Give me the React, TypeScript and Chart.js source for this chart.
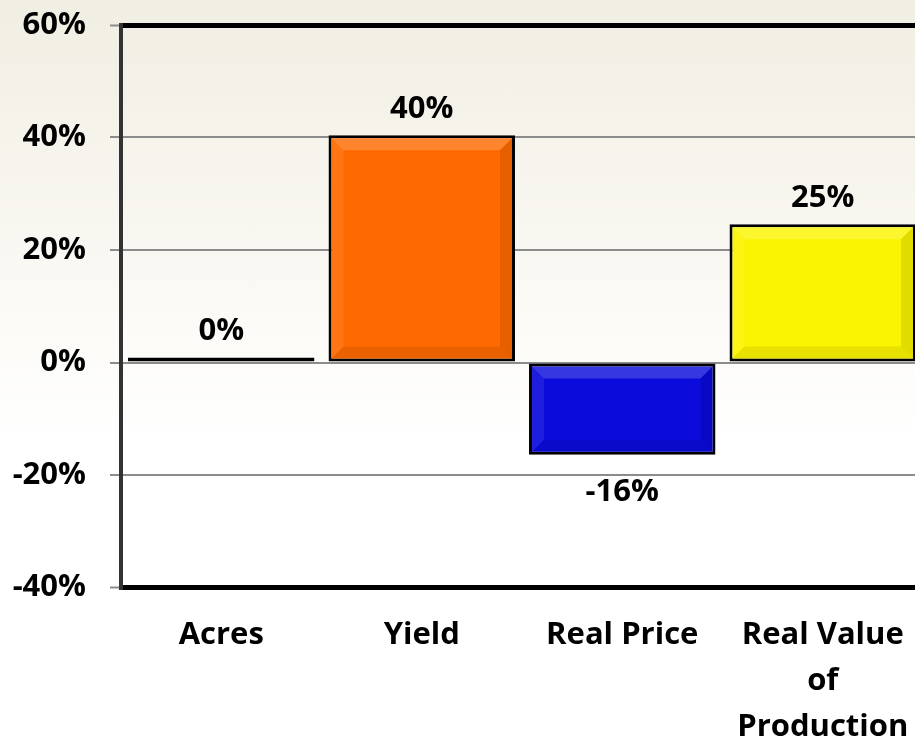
import React, { useEffect, useRef } from "react";
import { Chart, registerables } from "chart.js";

Chart.register(...registerables);

const categories: (string | string[])[] = ["Acres", "Yield", "Real Price", ["Real Value", "of", "Production"]];
const changeValues: number[] = [0.4, 40.4, -16.4, 24.6];
const barColors: string[] = ["#1a1a1a", "#ff6a00", "#0b0bdc", "#fbf400"];
const yTicks: number[] = [-40, -20, 0, 20, 40, 60];

const FONT = "'Open Sans', 'DejaVu Sans', sans-serif";

const bevelPlugin = {
  id: "bevel",
  afterDatasetsDraw(chart: any) {
    const { ctx } = chart;
    const meta = chart.getDatasetMeta(0);
    ctx.save();
    meta.data.forEach((bar: any) => {
      const top = Math.min(bar.y, bar.base) + 3;
      const bottom = Math.max(bar.y, bar.base) - 3;
      const left = bar.x - bar.width / 2 + 3;
      const right = bar.x + bar.width / 2 - 3;
      if (bottom - top < 20) return;
      const b = 12;
      const poly = (pts: number[][], color: string) => {
        ctx.beginPath();
        ctx.moveTo(pts[0][0], pts[0][1]);
        for (let k = 1; k < pts.length; k++) ctx.lineTo(pts[k][0], pts[k][1]);
        ctx.closePath();
        ctx.fillStyle = color;
        ctx.fill();
      };
      poly([[left, top], [right, top], [right - b, top + b], [left + b, top + b]], "rgba(255,255,255,0.18)");
      poly([[left, top], [left + b, top + b], [left + b, bottom - b], [left, bottom]], "rgba(255,255,255,0.08)");
      poly([[left, bottom], [left + b, bottom - b], [right - b, bottom - b], [right, bottom]], "rgba(0,0,0,0.08)");
      poly([[right, top], [right, bottom], [right - b, bottom - b], [right - b, top + b]], "rgba(0,0,0,0.10)");
    });
    ctx.restore();
  },
};

const valueLabelPlugin = {
  id: "valueLabels",
  afterDatasetsDraw(chart: any) {
    const { ctx } = chart;
    const meta = chart.getDatasetMeta(0);
    ctx.save();
    ctx.font = `bold 31px ${FONT}`;
    ctx.fillStyle = "#000";
    ctx.textAlign = "center";
    ctx.textBaseline = "middle";
    meta.data.forEach((bar: any, i: number) => {
      const v = changeValues[i];
      const txt = `${Math.round(v)}%`;
      const y = v >= 0 ? bar.y - 26 : bar.y + 37;
      ctx.fillText(txt, bar.x, y);
    });
    ctx.restore();
  },
};

export default function App() {
  const ref = useRef<HTMLCanvasElement>(null);
  useEffect(() => {
    if (!ref.current) return;
    const chart = new Chart(ref.current, {
      type: "bar",
      data: {
        labels: categories as any,
        datasets: [
          {
            data: changeValues,
            backgroundColor: barColors,
            borderColor: "#000",
            borderWidth: 3,
            borderSkipped: false,
            minBarLength: 5,
            categoryPercentage: 1,
            barPercentage: 0.93,
          },
        ],
      },
      options: {
        responsive: false,
        animation: false,
        layout: { padding: { top: 25, right: 2, left: 0, bottom: 0 } },
        plugins: { legend: { display: false }, tooltip: { enabled: false } },
        scales: {
          x: {
            grid: { display: false, drawTicks: false },
            border: { display: true, color: "#000", width: 5 },
            ticks: {
              color: "#000",
              padding: 25,
              maxRotation: 0,
              autoSkip: false,
              font: { family: FONT, size: 31, weight: "bold", lineHeight: 1.48 },
            },
            afterFit(scale: any) {
              scale.height = 151.5;
              scale.paddingLeft = 0;
              scale.paddingRight = 0;
            },
          },
          y: {
            min: -40,
            max: 60,
            afterBuildTicks(scale: any) {
              scale.ticks = yTicks.map((v) => ({ value: v }));
            },
            grid: {
              color: (c: any) => (c.tick && (c.tick.value === 60 || c.tick.value === -40) ? "#000" : "#8c8c8c"),
              lineWidth: (c: any) => (c.tick && (c.tick.value === 60 || c.tick.value === -40) ? 5 : 2),
              tickColor: "#8c8c8c",
              tickLength: 11,
              tickWidth: 2,
            },
            border: { display: true, color: "#333", width: 4 },
            ticks: {
              color: "#000",
              padding: 24,
              font: { family: FONT, size: 31, weight: "bold" },
              callback: (v: any) => `${v}%`,
            },
            afterFit(scale: any) {
              scale.width = 121;
              scale.paddingTop = 0;
              scale.paddingBottom = 0;
            },
          },
        },
      },
      plugins: [bevelPlugin, valueLabelPlugin],
    });
    return () => chart.destroy();
  }, []);

  return (
    <div
      style={{
        position: "fixed",
        left: 0,
        top: 0,
        width: 915,
        height: 739,
        overflow: "hidden",
        background:
          "linear-gradient(180deg, #f1efe3 0%, #f6f4ec 22%, #fcfbf7 45%, #ffffff 60%, #ffffff 100%)",
      }}
    >
      <canvas ref={ref} width={925} height={739} style={{ position: "absolute", left: 0, top: 0 }} />
    </div>
  );
}
